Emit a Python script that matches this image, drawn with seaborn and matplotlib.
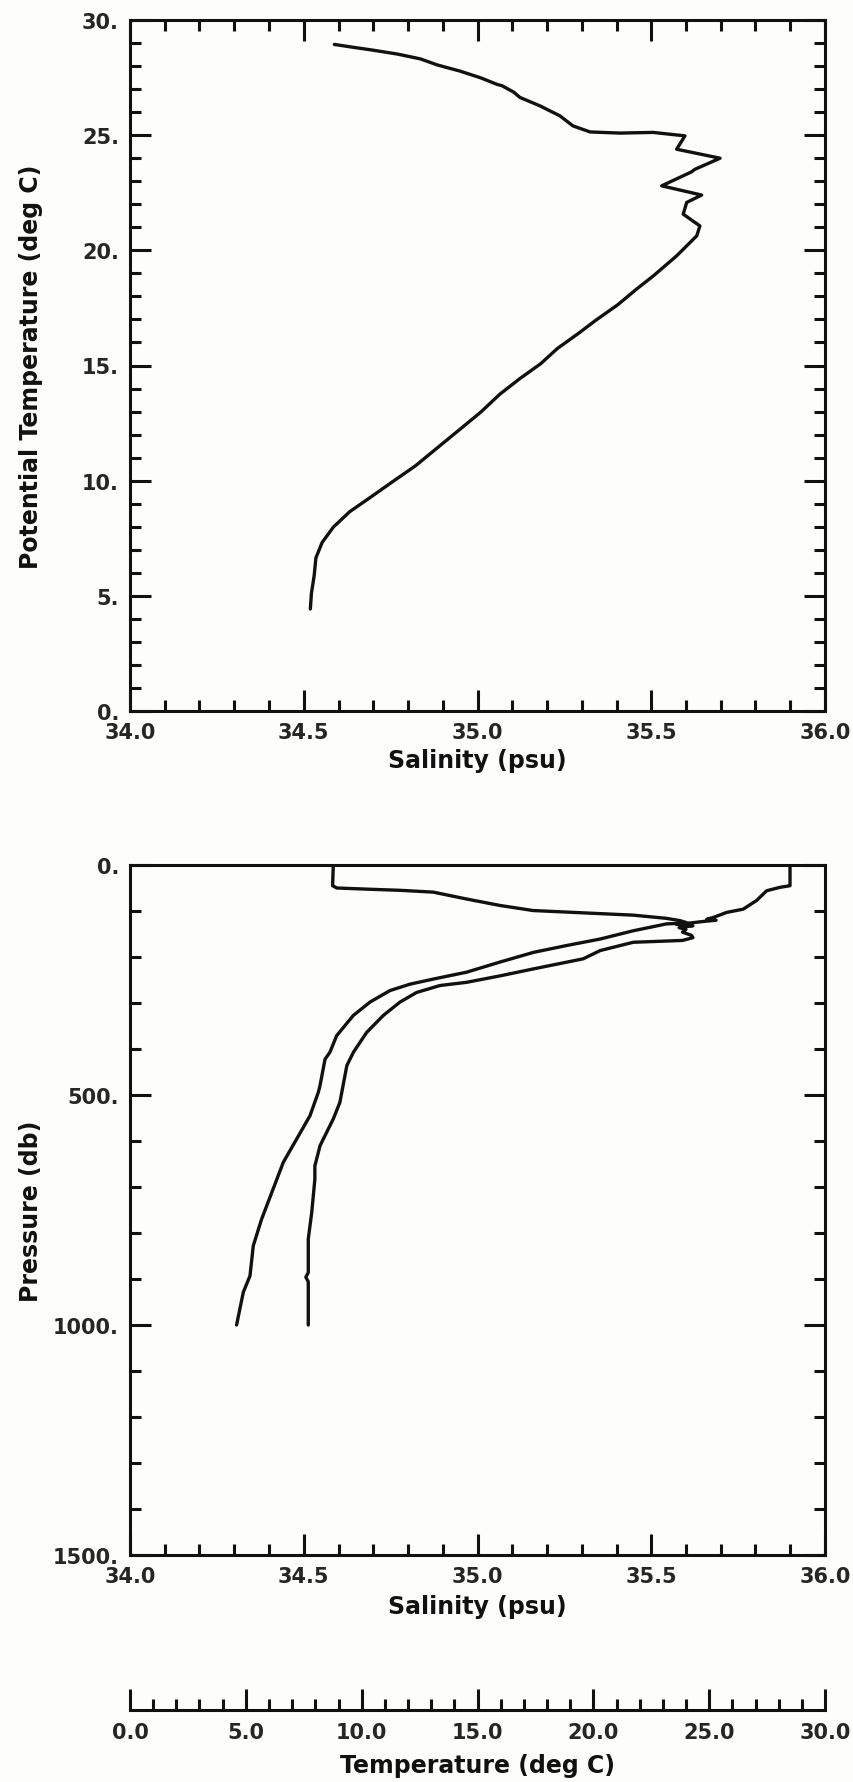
import matplotlib
matplotlib.use("Agg")
import matplotlib.pyplot as plt
import pandas as pd
import seaborn as sns
from matplotlib.ticker import MultipleLocator, FuncFormatter

# ---------------- data ----------------
# Upper panel: potential temperature vs salinity (T-S diagram)
ts_salinity = [34.588, 34.640, 34.695, 34.770, 34.836, 34.884, 34.950, 35.009,
               35.057, 35.070, 35.104, 35.122, 35.180, 35.237, 35.275, 35.324,
               35.410, 35.505, 35.597, 35.573, 35.698, 35.626, 35.615, 35.530,
               35.645, 35.602, 35.592, 35.640, 35.631, 35.573, 35.506, 35.458,
               35.403, 35.340, 35.292, 35.230, 35.182, 35.120, 35.064,
               35.009, 34.947, 34.884, 34.821, 34.758, 34.695, 34.632, 34.585,
               34.553, 34.535, 34.530, 34.522, 34.519]
ts_theta = [28.94, 28.82, 28.70, 28.52, 28.31, 28.05, 27.78, 27.49,
            27.20, 27.15, 26.87, 26.64, 26.27, 25.84, 25.40, 25.14,
            25.09, 25.12, 24.97, 24.39, 24.00, 23.52, 23.40, 22.80,
            22.40, 22.08, 21.57, 21.06, 20.63, 19.76, 18.89, 18.32,
            17.63, 16.96, 16.41, 15.74, 15.08, 14.41, 13.75,
            12.97, 12.20, 11.42, 10.64, 9.98, 9.31, 8.65, 7.98,
            7.32, 6.65, 5.88, 5.10, 4.43]

# Lower panel: salinity profile
sal_pressure = [0, 45, 50, 53, 55, 59, 74, 88, 99, 104, 109, 116, 121,
                125, 128, 132, 136, 140, 146, 153, 158, 164, 168, 186, 204,
                226, 241, 255, 262, 277, 298, 327, 364, 407, 436, 516, 552,
                610, 654, 683, 755, 813, 886, 896, 906, 1000]
sal_profile = [34.585, 34.583, 34.595, 34.700, 34.777, 34.873, 34.969, 35.065,
               35.160, 35.304, 35.448, 35.544, 35.583, 35.600, 35.570, 35.620,
               35.580, 35.600, 35.590, 35.616, 35.620, 35.590, 35.448, 35.353,
               35.304, 35.160, 35.065, 34.969, 34.892, 34.825, 34.777, 34.729,
               34.681, 34.643, 34.624, 34.604, 34.585, 34.547, 34.532, 34.532,
               34.523, 34.513, 34.513, 34.506, 34.513, 34.513]

# Lower panel: temperature profile (plotted against the 0-30 deg C scale)
temp_pressure = [0, 45, 48.5, 56, 77, 96, 103, 114, 118, 120, 123, 126, 128,
                 143, 161, 175, 190, 211, 233, 248, 259, 273, 298, 327, 371,
                 407, 422, 480, 494, 545, 596, 646, 712, 770, 828, 893, 929, 1000]
temp_profile = [28.49, 28.49, 28.06, 27.48, 27.05, 26.47, 25.76, 25.18, 24.90,
                25.30, 24.70, 24.20, 23.16, 21.72, 20.29, 18.85, 17.41, 15.97,
                14.53, 13.09, 12.09, 11.22, 10.36, 9.64, 8.92, 8.63, 8.42,
                8.20, 8.13, 7.77, 7.19, 6.62, 6.12, 5.68, 5.32, 5.18, 4.89, 4.60]

sal_range = [34.0, 36.0]
theta_range = [0, 30]
pres_range = [1500, 0]
temp_range = [0, 30]

xlabel_sal = "Salinity (psu)"
ylabel_theta = "Potential Temperature (deg C)"
ylabel_pres = "Pressure (db)"
xlabel_temp = "Temperature (deg C)"

# ---------------- styling ----------------
sns.set_theme(style="white")
plt.rcParams['font.family'] = ['DejaVu Sans']
BG = "#fdfdfb"
INK = "#111111"
LW_AX = 2.2
LW_LINE = 2.4
TICK_FS = 15
LABEL_FS = 17

W, H = 854, 1783
fig = plt.figure(figsize=(W / 100, H / 100), dpi=100)
fig.patch.set_facecolor(BG)


def frac(left, top, right, bottom):
    return [left / W, (H - bottom) / H, (right - left) / W, (bottom - top) / H]


def style_box(ax, ymajor, yminor, yfmt):
    ax.set_facecolor(BG)
    for s in ax.spines.values():
        s.set_visible(True)
        s.set_linewidth(LW_AX)
        s.set_color(INK)
    ax.xaxis.set_major_locator(MultipleLocator(0.5))
    ax.xaxis.set_minor_locator(MultipleLocator(0.1))
    ax.xaxis.set_major_formatter(FuncFormatter(lambda v, p: f"{v:.1f}"))
    ax.yaxis.set_major_locator(MultipleLocator(ymajor))
    ax.yaxis.set_minor_locator(MultipleLocator(yminor))
    ax.yaxis.set_major_formatter(FuncFormatter(yfmt))
    ax.tick_params(which='both', direction='in', top=True, right=True,
                   bottom=True, left=True, labeltop=False, labelright=False,
                   color=INK, width=LW_AX)
    ax.tick_params(which='major', length=15, labelsize=TICK_FS, pad=8)
    ax.tick_params(which='minor', length=8)
    for lab in ax.get_xticklabels() + ax.get_yticklabels():
        lab.set_fontweight('bold')
    ax.grid(False)


int_dot = lambda v, p: f"{v:.0f}."

# ---------------- upper panel: T-S ----------------
ax1 = fig.add_axes(frac(130, 21, 825, 712))
ts_df = pd.DataFrame({"salinity": ts_salinity, "theta": ts_theta})
sns.lineplot(data=ts_df, x="salinity", y="theta", sort=False, estimator=None,
             color=INK, linewidth=LW_LINE, ax=ax1)
ax1.set_xlim(*sal_range)
ax1.set_ylim(*theta_range)
style_box(ax1, 5, 1, int_dot)
ax1.set_xlabel(xlabel_sal, fontsize=LABEL_FS, fontweight='bold', color=INK)
ax1.set_ylabel(ylabel_theta, fontsize=LABEL_FS, fontweight='bold', color=INK)
ax1.xaxis.set_label_coords(0.5, -0.054)
ax1.yaxis.set_label_coords(-0.125, 0.5)

# ---------------- lower panel: profiles ----------------
ax2 = fig.add_axes(frac(130, 866, 825, 1556))
sal_df = pd.DataFrame({"pressure": sal_pressure, "salinity": sal_profile})
sns.lineplot(data=sal_df, x="salinity", y="pressure", sort=False,
             estimator=None, color=INK, linewidth=LW_LINE, ax=ax2)
ax2.set_xlim(*sal_range)
ax2.set_ylim(*pres_range)
style_box(ax2, 500, 100, int_dot)
ax2.set_xlabel(xlabel_sal, fontsize=LABEL_FS, fontweight='bold', color=INK)
ax2.set_ylabel(ylabel_pres, fontsize=LABEL_FS, fontweight='bold', color=INK)
ax2.xaxis.set_label_coords(0.5, -0.057)
ax2.yaxis.set_label_coords(-0.125, 0.5)

ax2t = ax2.twiny()
temp_df = pd.DataFrame({"pressure": temp_pressure, "temperature": temp_profile})
sns.lineplot(data=temp_df, x="temperature", y="pressure", sort=False,
             estimator=None, color=INK, linewidth=LW_LINE, ax=ax2t)
ax2t.set_xlim(*temp_range)
ax2.set_ylim(*pres_range)
ax2t.set_xlabel("")
ax2t.set_ylabel("")
ax2t.tick_params(which='both', top=False, bottom=False, left=False,
                 right=False, labeltop=False, labelbottom=False)
for s in ax2t.spines.values():
    s.set_visible(False)
ax2t.patch.set_visible(False)

# ---------------- separate temperature scale ----------------
ax3 = fig.add_axes(frac(130, 1681, 825, 1711))
ax3.patch.set_visible(False)
ax3.set_xlim(*temp_range)
ax3.set_yticks([])
for side in ["top", "left", "right"]:
    ax3.spines[side].set_visible(False)
ax3.spines["bottom"].set_visible(True)
ax3.spines["bottom"].set_linewidth(LW_AX)
ax3.spines["bottom"].set_color(INK)
ax3.xaxis.set_major_locator(MultipleLocator(5))
ax3.xaxis.set_minor_locator(MultipleLocator(1))
ax3.xaxis.set_major_formatter(FuncFormatter(lambda v, p: f"{v:.1f}"))
ax3.tick_params(which='both', direction='in', bottom=True, top=False,
                color=INK, width=LW_AX)
ax3.tick_params(which='major', length=15, labelsize=TICK_FS, pad=9)
ax3.tick_params(which='minor', length=8)
for lab in ax3.get_xticklabels():
    lab.set_fontweight('bold')
ax3.set_xlabel(xlabel_temp, fontsize=LABEL_FS, fontweight='bold', color=INK)
ax3.xaxis.set_label_coords(0.5, -1.45)
ax3.grid(False)

fig.savefig("out.png", dpi=100, facecolor=BG)
